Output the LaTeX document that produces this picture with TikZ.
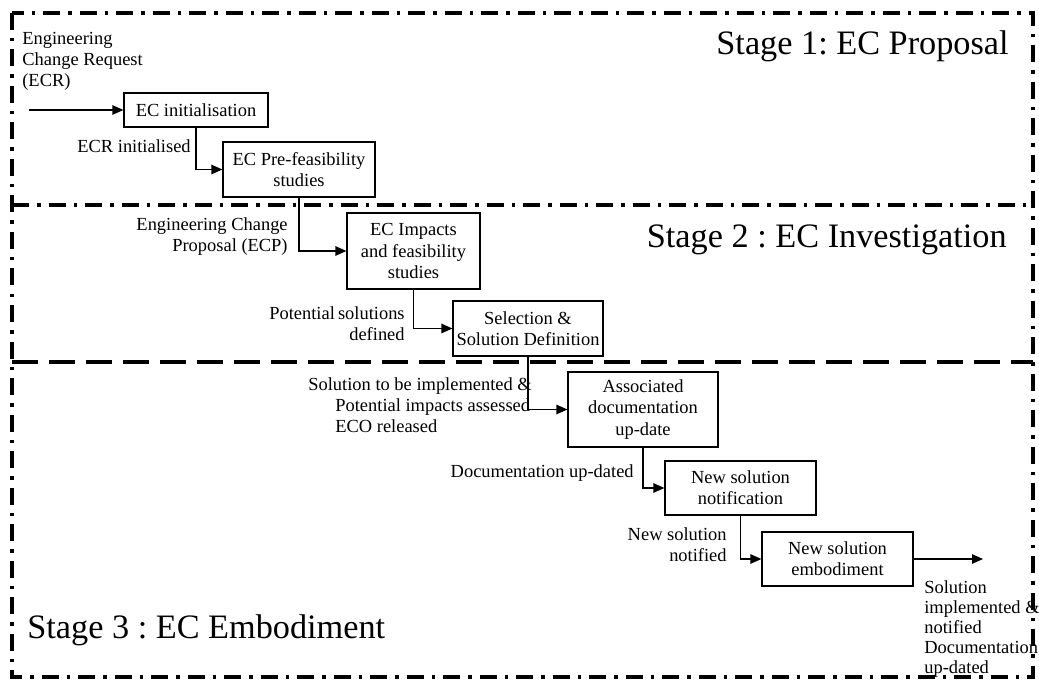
\documentclass[tikz,border=0pt]{standalone}
\usepackage{fontspec}
\setmainfont{Liberation Serif}
\usepackage{tikz}
\usetikzlibrary{arrows.meta, calc, positioning}
\frenchspacing
\newcommand{\handover}[2]
{
	\draw[flowtip] (#1.south) |- (#2.west)
}

\begin{document}
\begin{tikzpicture}[
every node/.append style={font=\fontsize{10.5}{12}\selectfont, inner sep=0pt},
ecbox/.style={draw, line width=0.7pt, align=center, inner sep=1pt},
stagetitle/.style={font=\fontsize{19.5}{22}\selectfont},
flowtip/.style={-{Triangle[length=0.22cm,width=0.19cm]}, line width=0.7pt},
border/.style={line width=2.2pt, dash pattern=on 0.34cm off 0.16cm on 0.07cm off 0.16cm}]

\useasboundingbox (0,0) rectangle (20.78,13.62);

% stage frames
\draw[border] (0.24,13.36) rectangle (20.66,0.08);
\draw[border] (0.24,9.52) -- (20.66,9.52);
\draw[line width=2.2pt, dash pattern=on 0.52cm off 0.22cm] (0.24,6.38) -- (20.66,6.38);

\node[stagetitle, anchor=base east] at (20.18,12.52) (s1){Stage 1: EC Proposal};
\node[stagetitle, anchor=base east] at (20.14,8.66) (s2){Stage 2 : EC Investigation};
\node[stagetitle, anchor=base west] at (0.54,0.86) (s3){Stage 3 : EC Embodiment};

% process steps
\node[ecbox, minimum width=2.88cm, minimum height=0.68cm] at (3.92,11.42) (b1){EC initialisation};
\node[ecbox, minimum width=3.04cm, minimum height=1.10cm] at (5.98,10.23) (b2){EC Pre-feasibility\\studies};
\node[ecbox, minimum width=2.66cm, minimum height=1.52cm] at (8.27,8.60) (b3){EC Impacts\\and feasibility\\studies};
\node[ecbox, minimum width=3.00cm, minimum height=1.10cm] at (10.56,7.05) (b4){Selection \&\\Solution Definition};
\node[ecbox, minimum width=3.00cm, minimum height=1.50cm] at (12.86,5.43) (b5){Associated\\documentation\\up-date};
\node[ecbox, minimum width=3.02cm, minimum height=1.08cm] at (14.81,3.86) (b6){New solution\\notification};
\node[ecbox, minimum width=3.02cm, minimum height=1.08cm] at (16.75,2.44) (b7){New solution\\embodiment};

% flow labels
\node[anchor=west, align=left] at (0.44,12.40) (ecr){Engineering\\Change Request\\(ECR)};
\node[anchor=east] at (3.82,10.70) (l12){ECR initialised};
\node[anchor=east, align=right] at (5.76,8.88) (l23){Engineering Change\\Proposal (ECP)};
\node[anchor=east, align=right] at (8.10,7.15) (l34){Potential\,solutions\\defined};
\node[anchor=west, align=left] at (6.70,5.52) (l45){\hspace*{-0.54cm}Solution to be implemented \&\\Potential impacts assessed\\ECO released};
\node[anchor=east] at (12.68,4.16) (l56){Documentation up-dated};
\node[anchor=east, align=right] at (14.54,2.72) (l67){New solution\\notified};
\node[anchor=west, align=left, font=\fontsize{10.5}{11.4}\selectfont] at (18.48,1.04) (out){Solution\\implemented \&\\notified\\Documentation\\up-dated};

\coordinate (ecrin) at (0.58,11.42);
\coordinate (done) at (19.66,2.44);
\draw[flowtip] (ecrin) -- (b1.west);
\handover{b1}{b2};
\handover{b2}{b3};
\handover{b3}{b4};
\handover{b4}{b5};
\handover{b5}{b6};
\handover{b6}{b7};
\draw[flowtip] (b7.east) -- (done);
\end{tikzpicture}
\end{document}
